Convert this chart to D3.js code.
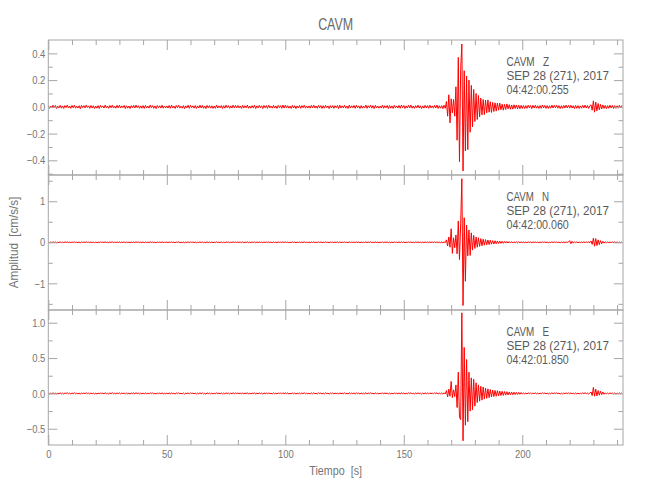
<!DOCTYPE html>
<html><head><meta charset="utf-8">
<script src="https://cdn.jsdelivr.net/npm/d3@7"></script>
<style>
body{margin:0;background:#fff}
text{font-family:"Liberation Sans",Arial,sans-serif}
</style>
</head><body><svg id="c" width="650" height="500"></svg>
<script>
// ---------------- data ----------------
const station = "CAVM";
const components = ["Z", "N", "E"];
const dateLabel = "SEP 28 (271), 2017";
const startTimes = ["04:42:00.255", "04:42:00.060", "04:42:01.850"];
const sampleStep = 0.5;          // s between samples
const ampUnit = 0.001;           // amplitudes below are in 0.001 cm/s/s
const xMajorTicks = [0, 50, 100, 150, 200];
const xMinorTicks = [10,20,30,40,60,70,80,90,110,120,130,140,160,170,180,190,210,220,230,240];
const xDomain = [0, 242.5];
const yDomainZ = [-0.51, 0.50];
const yDomainN = [-1.65, 1.64];
const yDomainE = [-0.73, 1.18];
const yMajorZ = [-0.4, -0.2, 0, 0.2, 0.4];
const yMinorZ = [-0.5, -0.3, -0.1, 0.1, 0.3];
const yMajorN = [-1, 0, 1];
const yMinorN = [-1.5, -0.5, 0.5, 1.5];
const yMajorE = [-0.5, 0, 0.5, 1.0];
const yMinorE = [-0.25, 0.25, 0.75];

const ampZ = [
8,-11,6,-9,12,-7,10,-13,5,-8,11,-10,7,-12,9,-6,13,-9,6,-11,
10,-7,12,-10,5,-9,8,-14,11,-6,9,-8,13,-5,7,-11,10,-9,8,-12,
6,-10,9,-12,11,-5,7,-9,13,-8,6,-11,10,-7,12,-9,5,-10,11,-8,
12,-9,7,-6,10,-13,8,-10,6,-12,9,-7,11,-9,13,-6,8,-11,7,-10,
9,-12,11,-8,6,-10,13,-7,9,-11,7,-13,10,-6,8,-9,12,-10,6,-8,
7,-9,10,-11,13,-8,6,-12,10,-7,11,-9,5,-10,9,-13,7,-8,12,-11,
11,-6,8,-10,9,-12,7,-9,12,-8,10,-11,6,-13,11,-7,9,-10,8,-12,
6,-11,13,-9,7,-8,10,-12,8,-10,12,-6,9,-11,7,-9,13,-8,10,-7,
10,-8,6,-12,11,-9,8,-7,13,-11,6,-10,9,-8,12,-13,7,-9,11,-6,
8,-13,10,-7,9,-11,12,-8,6,-10,11,-9,7,-12,10,-6,8,-11,13,-9,
12,-7,9,-10,6,-12,11,-9,8,-13,7,-8,10,-11,9,-7,12,-10,6,-9,
7,-10,11,-8,13,-9,6,-11,10,-7,9,-12,8,-10,11,-6,7,-13,9,-8,
9,-11,8,-6,10,-13,12,-9,7,-8,11,-10,6,-12,13,-9,8,-7,10,-11,
11,-8,7,-12,9,-10,6,-9,13,-11,8,-7,12,-10,9,-13,11,-8,6,-10,
6,-9,12,-11,8,-7,10,-13,9,-10,7,-12,11,-8,6,-9,10,-11,13,-7,
10,-12,7,-9,11,-8,13,-10,6,-11,9,-7,12,-9,8,-13,7,-10,11,-8,
9,-11,12,-8,7,-10,11,-9,13,-12,8,-10,9,-14,12,-11,40,-70,90,-120,
60,-45,55,-70,150,-250,370,-410,280,470,-480,270,-330,230,-320,200,-190,160,-150,130,
-110,100,-95,85,-75,65,-60,55,-58,50,-45,52,-40,38,-42,33,-35,30,-32,28,
-25,28,-22,20,-25,18,-20,22,-15,16,-18,14,-17,15,-12,13,-15,12,-14,11,
-12,10,-13,9,-11,12,-8,10,-13,11,-9,12,-10,8,-12,9,-11,13,-8,10,
-11,9,-12,8,-10,13,-9,11,-7,12,-10,9,-13,8,-11,10,-9,12,-8,11,
-10,12,-9,8,-13,10,-11,9,-12,7,-10,11,-8,13,-9,10,-12,8,15,-25,
45,-40,35,-30,25,-22,18,-16,14,-12,10,-13,9,-11,12,-8,10,-12,9,-11,
8,-10,12,-9,11
];

const ampN = [
6,-9,4,-7,10,-5,8,-11,3,-6,9,-8,5,-10,7,-4,11,-7,4,-9,
8,-5,10,-8,3,-7,6,-12,9,-4,7,-6,11,-3,5,-9,8,-7,6,-10,
4,-8,7,-10,9,-3,5,-7,11,-6,4,-9,8,-5,10,-7,3,-8,9,-6,
10,-7,5,-4,8,-11,6,-8,4,-10,7,-5,9,-7,11,-4,6,-9,5,-8,
7,-10,9,-6,4,-8,11,-5,7,-9,5,-11,8,-4,6,-7,10,-8,4,-6,
5,-7,8,-9,11,-6,4,-10,8,-5,9,-7,3,-8,7,-11,5,-6,10,-9,
9,-4,6,-8,7,-10,5,-7,10,-6,8,-9,4,-11,9,-5,7,-8,6,-10,
4,-9,11,-7,5,-6,8,-10,6,-8,10,-4,7,-9,5,-7,11,-6,8,-5,
8,-6,4,-10,9,-7,6,-5,11,-9,4,-8,7,-6,10,-11,5,-7,9,-4,
6,-11,8,-5,7,-9,10,-6,4,-8,9,-7,5,-10,8,-4,6,-9,11,-7,
10,-5,7,-8,4,-10,9,-7,6,-11,5,-6,8,-9,7,-5,10,-8,4,-7,
5,-8,9,-6,11,-7,4,-9,8,-5,7,-10,6,-8,9,-4,5,-11,7,-6,
7,-9,6,-4,8,-11,10,-7,5,-6,9,-8,4,-10,11,-7,6,-5,8,-9,
9,-6,5,-10,7,-8,4,-7,11,-9,6,-5,10,-8,7,-11,9,-6,4,-8,
4,-7,10,-9,6,-5,8,-11,7,-8,5,-10,9,-6,4,-7,8,-9,11,-5,
8,-10,5,-7,9,-6,11,-8,4,-9,7,-5,10,-7,6,-11,5,-8,9,-6,
7,-9,10,-6,5,-8,9,-7,11,-10,6,-8,7,-12,10,-9,60,-90,130,-120,
330,-270,110,-130,180,-280,520,-420,450,1550,-1540,600,-950,420,-330,300,-320,230,-190,170,
-150,130,-120,110,-100,90,-85,75,-70,65,-60,55,-55,50,-45,40,-42,38,-35,32,
-30,28,-26,25,-24,22,-20,20,-18,17,-16,15,-15,14,-13,12,-12,12,-11,10,
-9,7,-10,6,-8,9,-5,7,-10,8,-6,9,-7,5,-9,6,-8,10,-5,7,
-8,6,-9,5,-7,10,-6,8,-4,9,-7,6,-10,5,-8,7,-6,9,-5,8,
40,-35,25,-20,12,-9,8,-10,6,-9,7,-8,10,-6,9,-7,8,-10,30,-50,
100,-95,90,-80,60,-55,40,-35,25,-20,12,-10,8,-9,6,-8,10,-7,9,-6,
7,-9,5,-8,6
];

const ampE = [
5,-8,4,-6,9,-5,7,-10,3,-6,8,-7,4,-9,6,-3,10,-6,4,-8,
7,-4,9,-7,3,-6,5,-11,8,-4,6,-5,10,-3,4,-8,7,-6,5,-9,
3,-7,6,-9,8,-3,4,-6,10,-5,3,-8,7,-4,9,-6,3,-7,8,-5,
9,-6,4,-3,7,-10,5,-7,3,-9,6,-4,8,-6,10,-3,5,-8,4,-7,
6,-9,8,-5,3,-7,10,-4,6,-8,4,-10,7,-3,5,-6,9,-7,3,-5,
4,-6,7,-8,10,-5,3,-9,7,-4,8,-6,3,-7,6,-10,4,-5,9,-8,
8,-3,5,-7,6,-9,4,-6,9,-5,7,-8,3,-10,8,-4,6,-7,5,-9,
3,-8,10,-6,4,-5,7,-9,5,-7,9,-3,6,-8,4,-6,10,-5,7,-4,
7,-5,3,-9,8,-6,5,-4,10,-8,3,-7,6,-5,9,-10,4,-6,8,-3,
5,-10,7,-4,6,-8,9,-5,3,-7,8,-6,4,-9,7,-3,5,-8,10,-6,
9,-4,6,-7,3,-9,8,-6,5,-10,4,-5,7,-8,6,-4,9,-7,3,-6,
4,-7,8,-5,10,-6,3,-8,7,-4,6,-9,5,-7,8,-3,4,-10,6,-5,
6,-8,5,-3,7,-10,9,-6,4,-5,8,-7,3,-9,10,-6,5,-4,7,-8,
8,-5,4,-9,6,-7,3,-6,10,-8,5,-4,9,-7,6,-10,8,-5,3,-7,
3,-6,9,-8,5,-4,7,-10,6,-7,4,-9,8,-5,3,-6,7,-8,10,-4,
7,-9,4,-6,8,-5,10,-7,3,-8,6,-4,9,-6,5,-10,4,-7,8,-5,
6,-8,9,-5,4,-7,8,-6,10,-9,5,-7,6,-10,9,-8,40,-50,60,-40,
170,-60,50,-45,120,-200,300,-340,-370,1140,-670,650,-450,480,-400,300,-250,220,-230,200,
-180,150,-130,120,-110,100,-95,90,-80,75,-70,65,-60,55,-50,48,-45,42,-40,38,
-35,33,-30,30,-28,26,-25,24,-22,20,-20,18,-18,17,-16,15,-15,14,-13,13,
-8,6,-9,5,-7,8,-4,6,-9,7,-5,8,-6,4,-8,5,-7,9,-4,6,
-7,5,-8,4,-6,9,-5,7,-3,8,-6,5,-9,4,-7,6,-5,8,-4,7,
-6,8,-5,4,-9,6,-7,5,-8,3,-6,7,-4,9,-5,6,-8,4,20,-30,
85,-40,60,-35,40,-25,30,-18,20,-12,8,-9,5,-7,8,-4,6,-8,5,-7,
4,-6,8,-5,7
];

// ---------------- drawing ----------------
const svg = d3.select("#c");
const left = 48.3, right = 623;
const panelTops = [40, 175, 310], panelH = 135;
const axisColor = "#a6a6a6", labelColor = "#767676", noteColor = "#5a5a5a";
const condense = 0.82;   // the original uses a narrow stroke font
const noteWidths = [42.6, 102.6, 62.3];

const x = d3.scaleLinear().domain(xDomain).range([left, right]);

const panels = [
  {comp: components[0], amp: ampZ, dom: yDomainZ, major: yMajorZ, minor: yMinorZ, fmt: d3.format(".1f"), start: startTimes[0]},
  {comp: components[1], amp: ampN, dom: yDomainN, major: yMajorN, minor: yMinorN, fmt: d3.format("d"), start: startTimes[1]},
  {comp: components[2], amp: ampE, dom: yDomainE, major: yMajorE, minor: yMinorE, fmt: d3.format(".1f"), start: startTimes[2]}
];

function styleAxis(g){
  g.select(".domain").remove();
  g.selectAll(".tick line").attr("stroke", axisColor).attr("stroke-width", 1);
  g.selectAll(".tick text").attr("fill", labelColor).attr("font-size", 11.5);
}

panels.forEach((p, k) => {
  const top = panelTops[k], bot = top + panelH;
  const y = d3.scaleLinear().domain(p.dom).range([bot, top]);
  const isBottom = k === panels.length - 1;

  svg.append("clipPath").attr("id", "clip" + k)
    .append("rect").attr("x", left).attr("y", top).attr("width", right - left).attr("height", panelH);

  const line = d3.line().x((d, i) => x(i * sampleStep)).y(d => y(d * ampUnit));
  svg.append("path").datum(p.amp)
    .attr("clip-path", "url(#clip" + k + ")")
    .attr("d", line).attr("fill", "none").attr("stroke", "#ff0000").attr("stroke-width", 1);

  // left axis
  svg.append("g").attr("transform", `translate(${left},0)`)
    .call(d3.axisLeft(y).tickValues(p.major).tickSize(-9).tickPadding(3).tickFormat(p.fmt)).call(styleAxis);
  svg.append("g").attr("transform", `translate(${left},0)`)
    .call(d3.axisLeft(y).tickValues(p.minor).tickSize(-4.5).tickFormat("")).call(styleAxis);
  // right axis
  svg.append("g").attr("transform", `translate(${right},0)`)
    .call(d3.axisRight(y).tickValues(p.major).tickSize(-9).tickFormat("")).call(styleAxis);
  svg.append("g").attr("transform", `translate(${right},0)`)
    .call(d3.axisRight(y).tickValues(p.minor).tickSize(-4.5).tickFormat("")).call(styleAxis);
  // top axis
  svg.append("g").attr("transform", `translate(0,${top})`)
    .call(d3.axisTop(x).tickValues(xMajorTicks).tickSize(-10).tickFormat("")).call(styleAxis);
  svg.append("g").attr("transform", `translate(0,${top})`)
    .call(d3.axisTop(x).tickValues(xMinorTicks).tickSize(-5).tickFormat("")).call(styleAxis);
  // bottom axis
  svg.append("g").attr("transform", `translate(0,${bot})`)
    .call(d3.axisBottom(x).tickValues(xMajorTicks).tickSize(-10).tickPadding(5)
      .tickFormat(isBottom ? d3.format("d") : "")).call(styleAxis);
  svg.append("g").attr("transform", `translate(0,${bot})`)
    .call(d3.axisBottom(x).tickValues(xMinorTicks).tickSize(-5).tickFormat("")).call(styleAxis);

  // frame
  svg.append("rect").attr("x", left).attr("y", top).attr("width", right - left).attr("height", panelH)
    .attr("fill", "none").attr("stroke", axisColor).attr("stroke-width", 1);

  // annotation
  [station + "   " + p.comp, dateLabel, p.start].forEach((s, j) => {
    svg.append("text").attr("class", "note").attr("data-w", noteWidths[j])
      .attr("x", 506.5).attr("y", top + 26 + j * 14)
      .attr("fill", noteColor).attr("font-size", 13).attr("xml:space", "preserve").text(s);
  });
});

// titles
svg.append("text").attr("data-w", 35).attr("x", (left + right) / 2).attr("y", 30).attr("text-anchor", "middle")
  .attr("fill", "#6a6a6a").attr("font-size", 16).text(station);
svg.append("text").attr("data-w", 52.7).attr("x", (left + right) / 2).attr("y", 475).attr("text-anchor", "middle")
  .attr("fill", labelColor).attr("font-size", 13).attr("xml:space", "preserve").text("Tiempo  [s]");
svg.append("text").attr("data-w", 91.5).attr("transform", "translate(18,242.5) rotate(-90)").attr("text-anchor", "middle")
  .attr("fill", labelColor).attr("font-size", 13).attr("xml:space", "preserve").text("Amplitud  [cm/s/s]");

// narrow every text like the original stroke font
svg.selectAll("text").each(function(){
  const el = d3.select(this);
  const w = this.getComputedTextLength();
  const target = el.attr("data-w") ? +el.attr("data-w") : w * condense;
  if (w > 0) el.attr("textLength", target).attr("lengthAdjust", "spacingAndGlyphs");
});
</script>
</body></html>
